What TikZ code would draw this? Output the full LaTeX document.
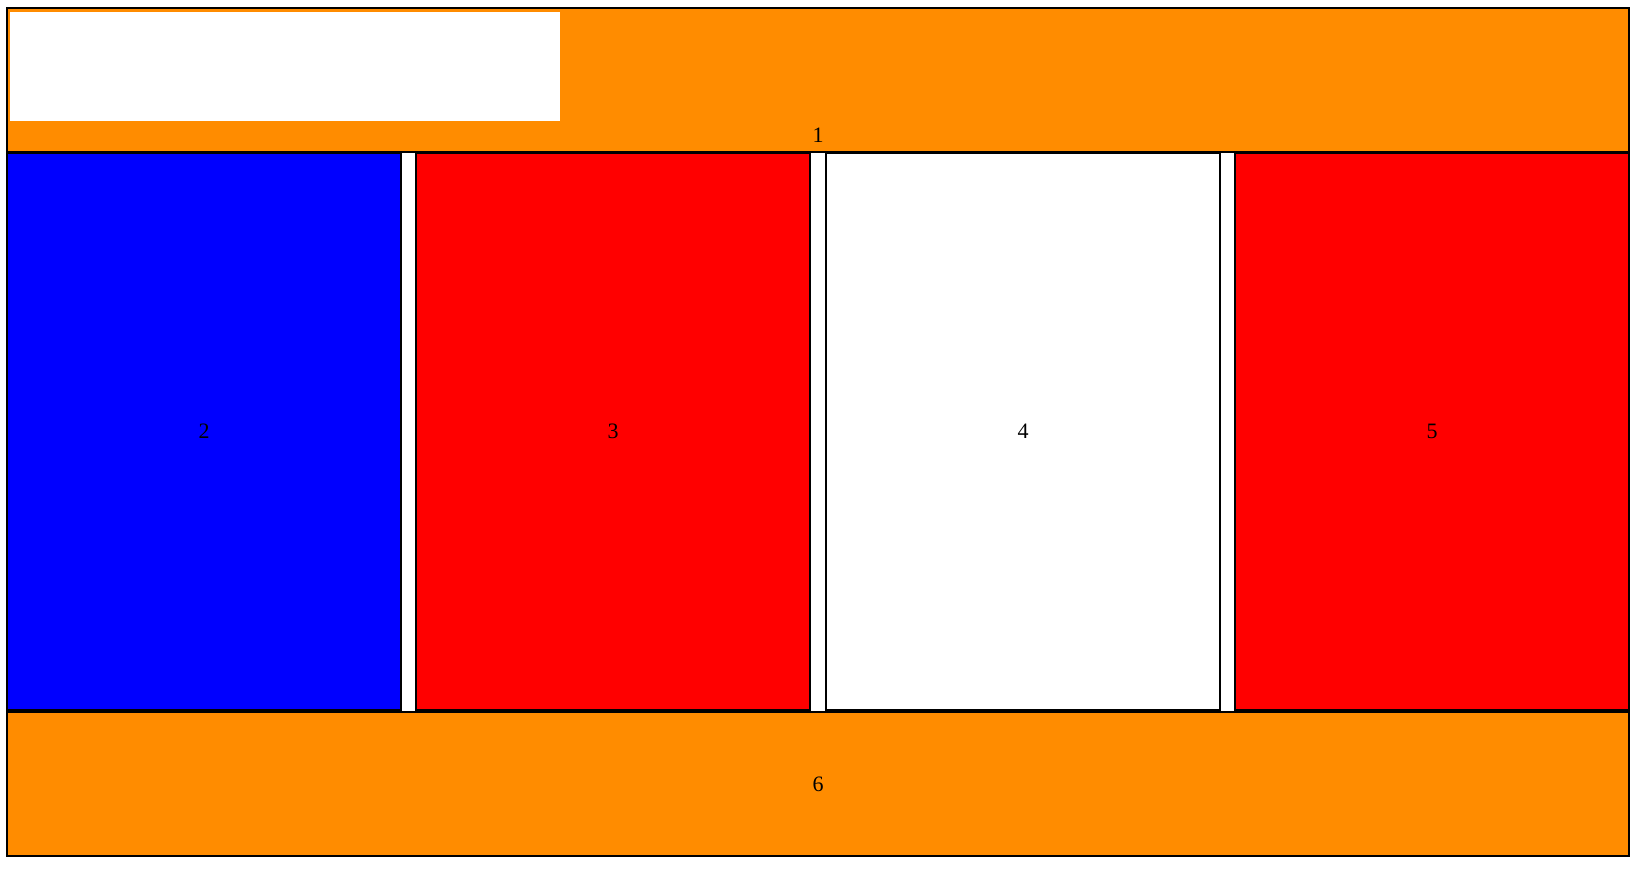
\documentclass[tikz,border=0pt]{standalone}
\usepackage{fontspec}
\setmainfont{Liberation Serif}
\definecolor{PanelOrange}{HTML}{FF8C00}
\definecolor{PanelBlue}{HTML}{0000FF}
\definecolor{PanelRed}{HTML}{FF0000}
\definecolor{PanelLine}{HTML}{000000}

\begin{document}
\begin{tikzpicture}[x=1pt,y=-1pt,
    panel/.style={draw=PanelLine,line width=2pt},
    num/.style={font=\fontsize{22}{22}\selectfont,text=black,inner sep=0pt}]
    \useasboundingbox[fill=white] (0,0) rectangle (1637,868);
    % header and footer bands
    \draw[panel,fill=PanelOrange] (7,8) rectangle (1629,152);
    \fill[white] (10,12) rectangle (560,121);
    \node[num] (n1) at (818,135) {1};
    \draw[panel,fill=PanelOrange] (7,712) rectangle (1629,856);
    \node[num] (n6) at (818,784) {6};
    % the four columns
    \foreach \x/\col/\txt in {
      7/PanelBlue/2,
      416/PanelRed/3,
      826/white/4,
      1235/PanelRed/5
    } {
      \draw[panel,fill=\col] (\x,153) rectangle ++(394,557);
      \node[num] (n\txt) at (\x+197,431) {\txt};
    }
  \end{tikzpicture}
\end{document}
